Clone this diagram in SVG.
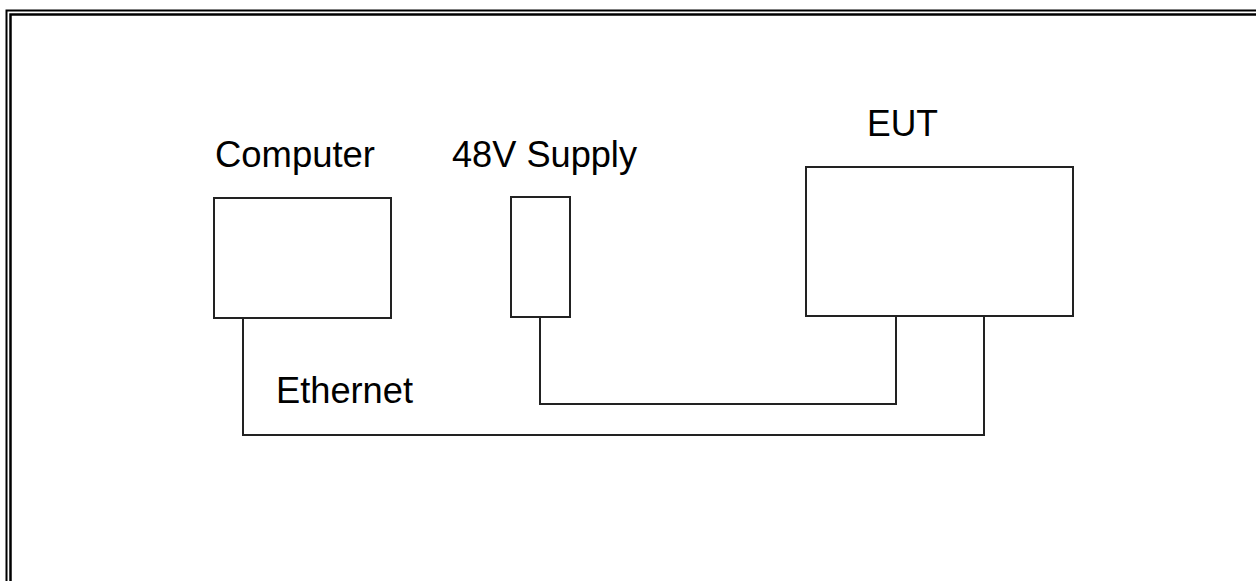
<svg xmlns="http://www.w3.org/2000/svg" width="1256" height="581" viewBox="0 0 1256 581">
<style>
.frame{fill:none;stroke:#000}
.box{fill:#fff;stroke:#222;stroke-width:2}
.wire{fill:none;stroke:#222;stroke-width:2}
.lbl{font-family:"Liberation Sans",Arial,sans-serif;font-size:36px;fill:#000}
</style>
<rect width="1256" height="581" fill="#fff"/>
<g id="frame">
<path class="frame" stroke-width="2" d="M6.5,581 V10.5 H1256"/>
<path class="frame" stroke-width="2.5" d="M10.5,581 V14.5 H1256"/>
</g>
<g id="connectors">
<path class="wire" d="M243,318 V435 H984 V316"/>
<path class="wire" d="M540,317 V404 H896 V316"/>
</g>
<g id="computer">
<rect class="box" x="214" y="198" width="177" height="120"/>
<text class="lbl" x="215" y="167" textLength="160" lengthAdjust="spacingAndGlyphs">Computer</text>
</g>
<g id="supply">
<rect class="box" x="511" y="197" width="59" height="120"/>
<text class="lbl" x="452" y="167" textLength="185" lengthAdjust="spacingAndGlyphs">48V Supply</text>
</g>
<g id="eut">
<rect class="box" x="806" y="167" width="267" height="149"/>
<text class="lbl" x="867" y="136" textLength="71" lengthAdjust="spacingAndGlyphs">EUT</text>
</g>
<g id="ethernet-label">
<text class="lbl" x="276" y="403" textLength="137" lengthAdjust="spacingAndGlyphs">Ethernet</text>
</g>
</svg>
